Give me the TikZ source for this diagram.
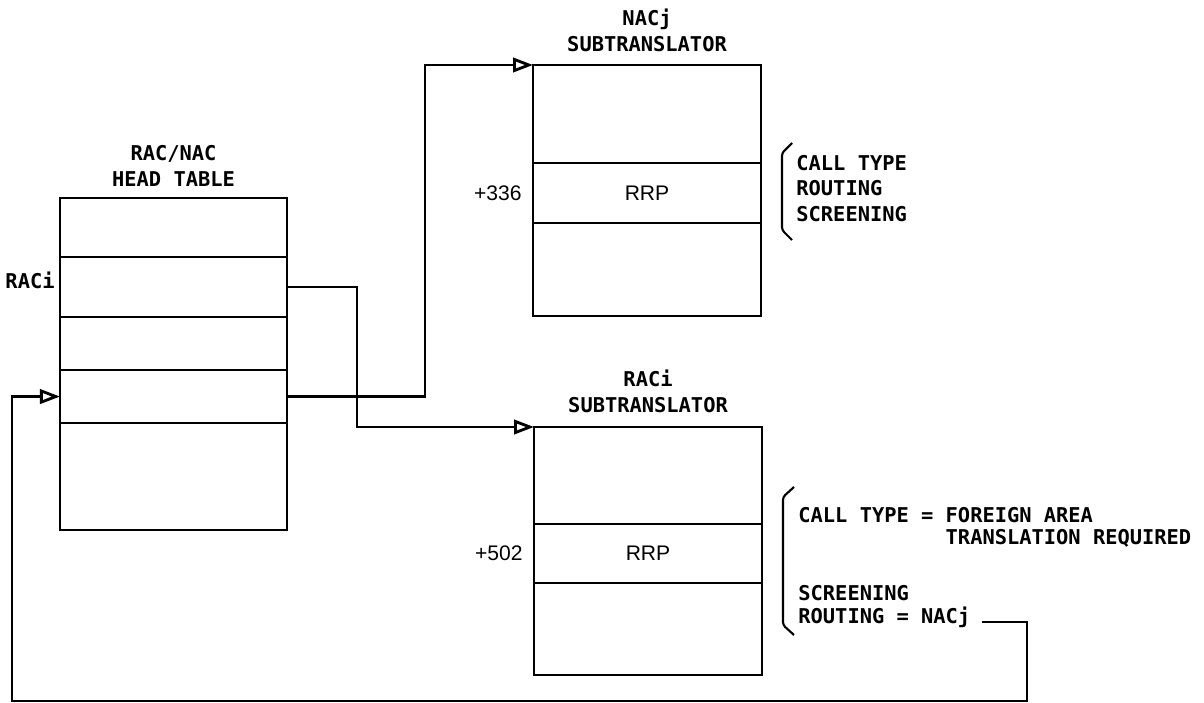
\documentclass[tikz,border=0pt]{standalone}
\usepackage{fontspec}
\setmonofont{DejaVu Sans Mono}
\newfontfamily\cellfont{Liberation Sans}
\usetikzlibrary{arrows.meta, positioning}
\newcommand{\notefont}{\ttfamily\bfseries\fontsize{14.5pt}{18pt}\selectfont}
\newcommand{\rowfont}{\cellfont\fontsize{15pt}{17pt}\selectfont}

\begin{document}
\begin{tikzpicture}[x=0.025cm, y=-0.025cm, line width=2pt,
    cell/.style={draw, outer sep=0pt, inner sep=0pt, font=\rowfont},
    headcell/.style={cell, minimum width=5.675cm},
    subcell/.style={cell, minimum width=5.7cm},
    title/.style={font=\notefont, align=center, inner sep=0pt},
    note/.style={font=\notefont, align=left, inner sep=0pt, anchor=base west},
    link/.style={-{Triangle[open, length=0.5cm, width=0.36cm]}}]
    \useasboundingbox (0,0) rectangle (1204,703);

    % Head table
    \node[headcell, minimum height=1.475cm, anchor=north west] (h1) at (60,198) {};
    \node[headcell, minimum height=1.5cm, below=0pt of h1] (h2) {};
    \node[headcell, minimum height=1.325cm, below=0pt of h2] (h3) {};
    \node[headcell, minimum height=1.325cm, below=0pt of h3] (h4) {};
    \node[headcell, minimum height=2.675cm, below=0pt of h4] (h5) {};
    \node[title, above=0.26cm of h1] (htitle) {RAC/NAC\\HEAD TABLE};
    \node[font=\notefont, inner sep=0pt, left=0.1cm of h2, yshift=0.175cm] (raclabel) {RACi};

    % NACj subtranslator
    \node[subcell, minimum height=2.45cm, anchor=north west] (n1) at (533,65) {};
    \node[subcell, minimum height=1.5cm, below=0pt of n1] (n2) {RRP};
    \node[subcell, minimum height=2.325cm, below=0pt of n2] (n3) {};
    \node[title, above=0.3cm of n1] (ntitle) {NACj\\SUBTRANSLATOR};
    \node[font=\rowfont, inner sep=0pt, left=0.25cm of n2] (noffset) {+336};

    % RACi subtranslator
    \node[subcell, minimum height=2.425cm, anchor=north west] (r1) at (534,427) {};
    \node[subcell, minimum height=1.475cm, below=0pt of r1] (r2) {RRP};
    \node[subcell, minimum height=2.3cm, below=0pt of r2] (r3) {};
    \node[title, above=0.33cm of r1] (rtitle) {RACi\\SUBTRANSLATOR};
    \node[font=\rowfont, inner sep=0pt, left=0.25cm of r2] (roffset) {+502};

    % Notes
    \draw[line width=1.5pt, rounded corners=2pt] (792,143) -- (782,153) -- (782,230) -- (792,240);
    \node[note] (nnote) at (795,221) {CALL TYPE\\ROUTING\\SCREENING};
    \draw[line width=1.5pt, rounded corners=2pt] (794,487) -- (783,497) -- (783,625) -- (794,635);
    \node[note, font=\ttfamily\bfseries\fontsize{14.5pt}{15.2pt}\selectfont] (rnote) at (797,544)
        {CALL TYPE = FOREIGN AREA\\\phantom{CALL TYPE = }TRANSLATION REQUIRED};
    \node[note] (screen) at (797,600) {SCREENING};
    \node[note] (route) at (797,623) {ROUTING = NACj};

    % Links
    \coordinate (loopbend) at (1027,701);
    \coordinate (loopcorner) at (12,701);
    \draw[link] (h2.east) -- ++(70,0) |- (r1.north west);
    \draw[link] (h4.east) -- ++(138,0) |- (n1.north west);
    \draw[link] (route.base east) ++(10,-1) -| (loopbend) -- (loopcorner) |- (h4.west);
\end{tikzpicture}
\end{document}
